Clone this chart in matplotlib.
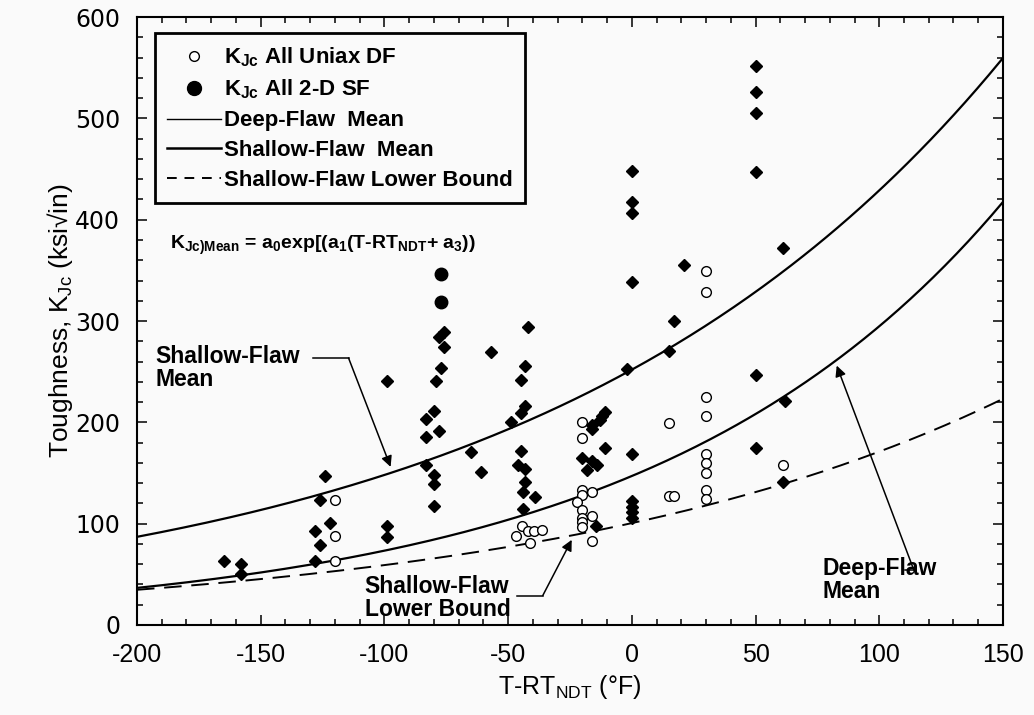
import matplotlib
matplotlib.use("Agg")
import matplotlib.pyplot as plt
from matplotlib.lines import Line2D
from matplotlib.ticker import MultipleLocator
import numpy as np

plt.rcParams['font.family'] = ['Liberation Sans', 'DejaVu Sans']
plt.rcParams['axes.unicode_minus'] = False
plt.rcParams['mathtext.fontset'] = 'custom'
plt.rcParams['mathtext.rm'] = 'Liberation Sans'
plt.rcParams['mathtext.it'] = 'Liberation Sans'
plt.rcParams['mathtext.bf'] = 'Liberation Sans:bold'

# K_Jc all uniaxial deep-flaw (open circles)
df_t = [-120, -120, -120,
        -47, -44.5, -41.8, -39.4, -36.2, -41.2,
        -20, -20, -20, -16, -20, -22, -20, -16, -20, -20, -20, -16,
        15, 15, 17,
        30, 30, 30, 30, 30, 30, 30, 30, 30,
        61]
df_k = [123, 88, 63,
        88, 98, 93, 93, 94, 81,
        200, 185, 133, 131, 128, 121, 113, 108, 106, 102, 97, 83,
        199, 127, 127,
        349, 329, 225, 206, 169, 160, 150, 133, 124,
        158]

# K_Jc all 2-D shallow-flaw (filled diamonds)
sf_t = [-165, -158, -158,
        -124, -126, -122, -128, -126, -128,
        -99, -99, -99,
        -76, -78, -76, -77, -79, -80, -83, -78, -83, -83, -80, -80, -80,
        -65, -61, -57,
        -42, -43, -45, -43, -45, -49, -45, -46, -43, -43, -44, -39, -44,
        -11, -12, -13, -16, -16, -11, -20, -16, -14, -18, -14.5,
        0, 0, 0, 0, -2, 0, 0, 0, 0, 0,
        15, 17, 21,
        50, 50, 50, 50, 50, 50,
        61, 62, 61]
sf_k = [63, 60, 50,
        147, 123, 101, 93, 79, 63,
        241, 98, 87,
        289, 284, 274, 254, 241, 211, 203, 191, 186, 158, 148, 139, 117,
        171, 151, 269,
        294, 256, 242, 216, 209, 200, 172, 158, 154, 141, 131, 126, 114,
        210, 206, 202, 197, 193, 175, 165, 162, 158, 153, 98,
        448, 418, 407, 339, 253, 169, 122, 116, 111, 106,
        270, 300, 355,
        552, 526, 505, 447, 247, 175,
        372, 221, 141]

# larger filled circles in the 2-D SF set
sfc_t = [-77, -77]
sfc_k = [346, 319]

# fitted curves  K = a0 * exp(a1 * (T - RT_NDT))
temps = np.linspace(-200, 150, 300)
deep_a0, deep_a1 = 147.0, 0.00696
shal_a0, shal_a1 = 252.0, 0.00532
lb_a0, lb_a1 = 100.5, 0.00532

fig = plt.figure(figsize=(10.34, 7.15), dpi=100, facecolor='#fafafa')
ax = fig.add_axes([0.1325, 0.126, 0.8375, 0.850])
ax.set_facecolor('#fafafa')

ax.plot(temps, deep_a0 * np.exp(deep_a1 * temps), color='black', lw=1.6)
ax.plot(temps, shal_a0 * np.exp(shal_a1 * temps), color='black', lw=1.6)
ax.plot(temps, lb_a0 * np.exp(lb_a1 * temps), color='black', lw=1.4,
        dashes=(9, 5))

ax.plot(sf_t, sf_k, 'D', color='black', ms=6.2, mec='black')
ax.plot(sfc_t, sfc_k, 'o', color='black', ms=9)
ax.plot(df_t, df_k, 'o', mfc='white', mec='black', mew=1.0, ms=7)

ax.set_xlim(-200, 150)
ax.set_ylim(0, 600)
ax.xaxis.set_major_locator(MultipleLocator(50))
ax.xaxis.set_minor_locator(MultipleLocator(10))
ax.yaxis.set_major_locator(MultipleLocator(100))
ax.yaxis.set_minor_locator(MultipleLocator(20))
ax.tick_params(which='both', direction='in', top=True, right=True, width=1.1)
ax.tick_params(which='major', length=7)
ax.tick_params(which='minor', length=4)
ax.tick_params(axis='x', labelsize=18, pad=13)
ax.tick_params(axis='y', pad=12)
for lab in ax.get_yticklabels():
    lab.set_fontfamily('DejaVu Sans')
    lab.set_fontsize(17)
for s in ax.spines.values():
    s.set_linewidth(1.5)

ax.set_xlabel('T-RT$_{\\rm NDT}$ (°F)', fontsize=18, labelpad=4)
ax.set_ylabel('Toughness, K$_{\\rm Jc}$ (ksi√in)', fontsize=19, labelpad=0)

handles = [
    Line2D([], [], ls='none', marker='o', mfc='white', mec='black', ms=7),
    Line2D([], [], ls='none', marker='o', color='black', ms=10),
    Line2D([], [], color='black', lw=1.0),
    Line2D([], [], color='black', lw=1.8),
    Line2D([], [], color='black', lw=1.4, dashes=(5, 4)),
]
labels = ['K$_{\\mathbf{Jc}}$ All Uniax DF',
          'K$_{\\mathbf{Jc}}$ All 2-D SF',
          'Deep-Flaw  Mean',
          'Shallow-Flaw  Mean',
          'Shallow-Flaw Lower Bound']
leg = ax.legend(handles, labels, loc='upper left',
                bbox_to_anchor=(0.0208, 0.9737), borderaxespad=0,
                fancybox=False, edgecolor='black', framealpha=1,
                facecolor='#fafafa', handlelength=2.4, handletextpad=0.15,
                labelspacing=0.4, borderpad=0.55,
                prop={'weight': 'bold', 'size': 16})
leg.get_frame().set_linewidth(2.0)

ax.text(-186.5, 375,
        'K$_{\\mathbf{Jc)Mean}}$ = a$_{\\mathbf{0}}$exp[(a$_{\\mathbf{1}}$'
        '(T-RT$_{\\mathbf{NDT}}$+ a$_{\\mathbf{3}}$))',
        fontsize=14, fontweight='bold', va='center')

# annotations
bold = dict(fontsize=16.5, fontweight='bold', linespacing=1.0)
arrow = dict(arrowstyle='-|>', color='black', lw=1.1, mutation_scale=16,
             shrinkA=0, shrinkB=0)

ax.text(-192.5, 254, 'Shallow-Flaw\nMean', va='center', ha='left', **bold)
ax.plot([-129, -114.5], [263.5, 263.5], color='black', lw=1.1)
ax.annotate('', xy=(-97.5, 156), xytext=(-114.5, 263.5), arrowprops=arrow)

ax.text(-108, 27, 'Shallow-Flaw\nLower Bound', va='center', ha='left', **bold)
ax.plot([-46.5, -36], [29, 29], color='black', lw=1.1)
ax.annotate('', xy=(-24.3, 84), xytext=(-36, 29), arrowprops=arrow)

ax.text(77, 44, 'Deep-Flaw\nMean', va='center', ha='left', **bold)
ax.plot([110.5, 114], [54, 54], color='black', lw=1.1)
ax.annotate('', xy=(82.8, 256), xytext=(114, 54), arrowprops=arrow)

fig.savefig('out.png', dpi=100, facecolor=fig.get_facecolor())
